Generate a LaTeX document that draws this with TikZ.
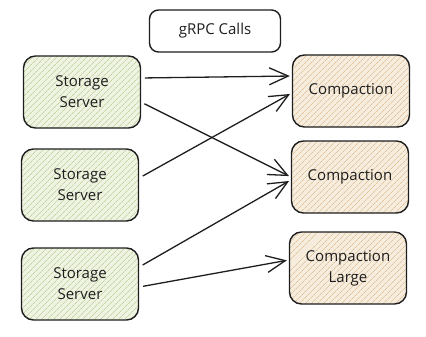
\documentclass[tikz,border=0pt]{standalone}
\usepackage{fontspec}
\setmainfont{Open Sans}
\usetikzlibrary{arrows.meta, patterns.meta}
\definecolor{cgreen}{HTML}{EEF3E2}
\definecolor{cgreenh}{HTML}{C3D4A2}
\definecolor{corange}{HTML}{F7EDDF}
\definecolor{corangeh}{HTML}{DFC49C}
\definecolor{cink}{HTML}{1E1E1E}
\tikzset{
  every picture/.style={line width=1.4pt},
  box/.style={draw=cink, rounded corners=12pt, align=center, minimum width=117pt, minimum height=72pt, inner sep=4pt, text=cink, font=\fontsize{15}{21}\selectfont},
  hatch/.style={preaction={fill=#1}, pattern={Lines[angle=45, distance=4pt, line width=0.7pt]}},
  server/.style={box, hatch=cgreen, pattern color=cgreenh},
  worker/.style={box, hatch=corange, pattern color=corangeh},
  label/.style={box, fill=white, minimum width=131pt, minimum height=42pt, rounded corners=9pt},
  arrow/.style={-{Straight Barb[length=19pt, width=17pt, line width=1.3pt]}, draw=cink, line width=1.3pt, shorten <=4pt, shorten >=2pt},
}

\begin{document}
\begin{tikzpicture}[x=1pt, y=-1pt]
  \useasboundingbox (0,0) rectangle (426,337);
  \node[label] (calls) at (215,31) {gRPC Calls};
  \node[server] (s1) at (82,92) {Storage\\ Server};
  \node[server] (s2) at (80,185) {Storage\\ Server};
  \node[server] (s3) at (80,284) {Storage\\ Server};
  \node[worker] (c1) at (351,91) {Compaction};
  \node[worker] (c2) at (350,177) {Compaction};
  \node[worker] (cl) at (348,268) {Compaction\\ Large};
  \draw[arrow] ([yshift=14pt]s1.east) -- ([yshift=15pt]c1.west);
  \draw[arrow] ([yshift=-10pt]s1.east) -- (c2.west);
  \draw[arrow] ([yshift=7pt]s2.east) -- ([yshift=-2pt]c1.west);
  \draw[arrow] ([yshift=17pt]s3.east) -- ([yshift=-3pt]c2.west);
  \draw[arrow] ([yshift=-3pt]s3.east) -- ([yshift=8pt]cl.west);
\end{tikzpicture}
\end{document}
